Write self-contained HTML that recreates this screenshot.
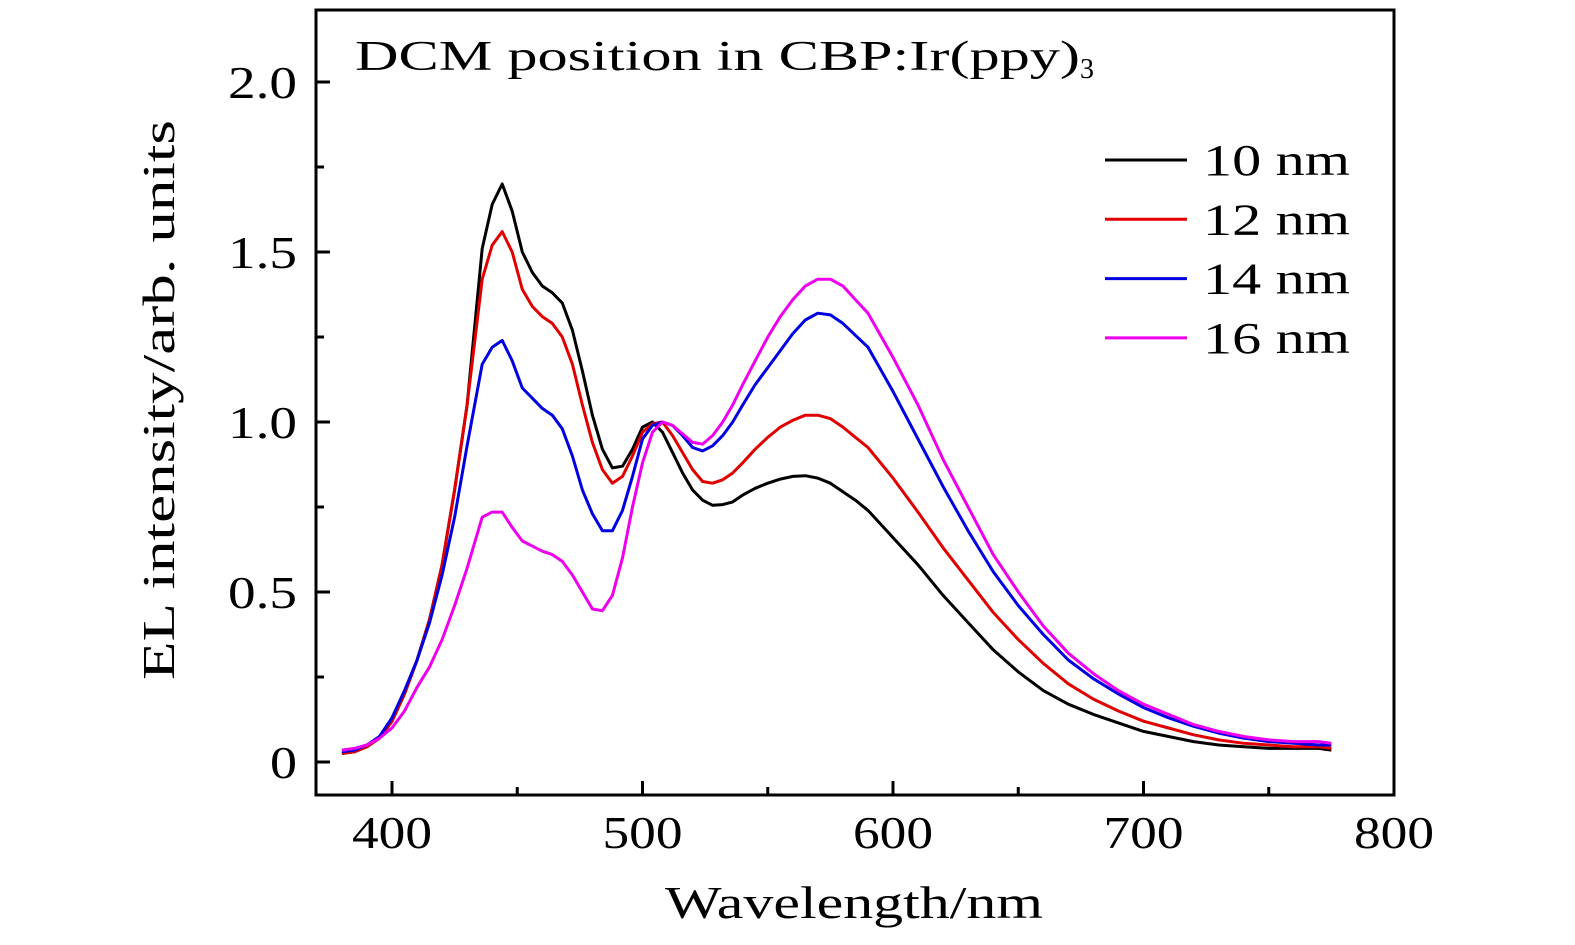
<!DOCTYPE html>
<html><head><meta charset="utf-8"><style>
body{margin:0;background:#fff;}
svg{display:block;font-family:"Liberation Serif",serif;}
</style></head><body>
<svg id="chart" width="1575" height="945" viewBox="0 0 1575 945" xmlns="http://www.w3.org/2000/svg">
<g id="plot"></g>
</svg>
<script>
const wavelengths=[380,385,390,395,400,405,410,415,420,425,430,436,440,444,448,452,456,460,464,468,472,476,480,484,488,492,496,500,504,508,512,516,520,524,528,532,536,540,545,550,555,560,565,570,575,580,585,590,600,610,620,630,640,650,660,670,680,690,700,710,720,730,740,750,760,770,775];
const s10=[0.025,0.03,0.045,0.07,0.12,0.2,0.3,0.42,0.58,0.8,1.05,1.51,1.64,1.70,1.62,1.50,1.44,1.40,1.38,1.35,1.27,1.15,1.02,0.92,0.865,0.87,0.92,0.985,1.0,0.97,0.91,0.85,0.80,0.77,0.755,0.757,0.765,0.785,0.805,0.82,0.832,0.84,0.842,0.835,0.82,0.795,0.77,0.74,0.66,0.58,0.49,0.41,0.33,0.265,0.21,0.17,0.14,0.115,0.09,0.075,0.06,0.05,0.045,0.04,0.04,0.04,0.035];
const s12=[0.025,0.03,0.045,0.07,0.12,0.2,0.3,0.42,0.58,0.8,1.05,1.42,1.52,1.56,1.50,1.39,1.34,1.31,1.29,1.25,1.17,1.05,0.94,0.86,0.82,0.84,0.90,0.97,0.995,1.0,0.96,0.91,0.86,0.825,0.82,0.83,0.85,0.88,0.92,0.955,0.985,1.005,1.02,1.02,1.01,0.985,0.955,0.925,0.835,0.735,0.63,0.535,0.44,0.36,0.29,0.23,0.185,0.15,0.12,0.1,0.08,0.065,0.055,0.05,0.045,0.045,0.04];
const s14=[0.03,0.035,0.05,0.075,0.13,0.21,0.3,0.41,0.55,0.72,0.93,1.17,1.22,1.24,1.18,1.10,1.07,1.04,1.02,0.98,0.90,0.80,0.73,0.68,0.68,0.74,0.84,0.95,0.99,1.0,0.99,0.96,0.925,0.915,0.93,0.96,1.0,1.05,1.11,1.16,1.21,1.26,1.30,1.32,1.315,1.29,1.255,1.22,1.09,0.95,0.81,0.68,0.56,0.46,0.375,0.30,0.245,0.20,0.16,0.13,0.105,0.085,0.07,0.06,0.055,0.05,0.05];
const s16=[0.035,0.04,0.05,0.07,0.1,0.15,0.22,0.28,0.36,0.46,0.57,0.72,0.735,0.735,0.69,0.65,0.635,0.62,0.61,0.59,0.55,0.5,0.45,0.445,0.49,0.6,0.75,0.88,0.97,1.0,0.99,0.965,0.94,0.935,0.96,1.0,1.05,1.11,1.18,1.25,1.31,1.36,1.40,1.42,1.42,1.40,1.36,1.32,1.19,1.05,0.89,0.75,0.61,0.50,0.40,0.32,0.26,0.21,0.17,0.14,0.11,0.09,0.075,0.065,0.06,0.06,0.055];
const seriesNames=["10 nm","12 nm","14 nm","16 nm"];
const xTicks=[400,500,600,700,800];
const yTicks=[0,0.5,1.0,1.5,2.0];
const yTickLabels=["0","0.5","1.0","1.5","2.0"];

const NS="http://www.w3.org/2000/svg";
const L=316,R=1394,T=10,B=795;
const xs=v=>392+(v-400)*2.505;
const ys=v=>762-v*340;
const g=document.getElementById('plot');
function mk(tag,attrs,parent){const e=document.createElementNS(NS,tag);for(const k in attrs)e.setAttribute(k,attrs[k]);(parent||g).appendChild(e);return e;}

const colors=["#000000","#e00000","#0000e0","#ee00ee"];
const data=[s10,s12,s14,s16];
data.forEach((s,i)=>{
  const d=s.map((v,j)=>(j?'L':'M')+xs(wavelengths[j]).toFixed(1)+','+ys(v).toFixed(1)).join(' ');
  const p=mk('path',{d:d,fill:'none',stroke:colors[i],'stroke-width':3,'stroke-linejoin':'round'});
  
  
});

const frame=mk('rect',{x:L,y:T,width:R-L,height:B-T,fill:'none',stroke:'#000','stroke-width':3});



const SA={'lengthAdjust':'spacingAndGlyphs'};
xTicks.forEach((t,i)=>{
  const x=xs(t);
  if(i<xTicks.length-1){
    const tk=mk('line',{x1:x,x2:x,y1:B,y2:B-14,stroke:'#000','stroke-width':3});
    
    
  }
  const tx=mk('text',{x:x-40,y:848,'font-size':46,textLength:80,lengthAdjust:'spacingAndGlyphs'});
  tx.textContent=t;
  
  
  if(i<xTicks.length-1){
    const xm=xs(t+50);
    const mt=mk('line',{x1:xm,x2:xm,y1:B,y2:B-8,stroke:'#000','stroke-width':3});
    
    
  }
});

yTicks.forEach((t,i)=>{
  const y=ys(t);
  const tk=mk('line',{x1:L,x2:L+14,y1:y,y2:y,stroke:'#000','stroke-width':3});
  
  
  const lab=yTickLabels[i];
  const w=lab.length===1?27:69;
  const tx=mk('text',{x:297-w,y:y+16,'font-size':46,textLength:w,lengthAdjust:'spacingAndGlyphs'});
  tx.textContent=lab;
  
  
  const ym=ys(t+0.25);
  if(ym>T){
    const mt=mk('line',{x1:L,x2:L+8,y1:ym,y2:ym,stroke:'#000','stroke-width':3});
    
    
  }
});

const xl=mk('text',{x:665,y:918,'font-size':46,textLength:378,lengthAdjust:'spacingAndGlyphs'});
xl.textContent='Wavelength/nm';


const yl=mk('text',{x:0,y:0,'font-size':46,textLength:560,lengthAdjust:'spacingAndGlyphs',transform:'translate(174,680) rotate(-90)'});
yl.textContent='EL intensity/arb. units';



const title=mk('text',{x:355,y:70,'font-size':42});
title.innerHTML='<tspan textLength="725" lengthAdjust="spacingAndGlyphs">DCM position in CBP:Ir(ppy)</tspan><tspan font-size="28" dy="8">3</tspan>';



seriesNames.forEach((n,i)=>{
  const y=160+i*59.3;
  const lg=mk('g',{});
  
  
  mk('line',{x1:1105,x2:1187,y1:y,y2:y,stroke:colors[i],'stroke-width':3},lg);
  const t=mk('text',{x:1203,y:y+15,'font-size':44,textLength:147,lengthAdjust:'spacingAndGlyphs'},lg);
  t.textContent=n;
});
</script>
</body></html>
